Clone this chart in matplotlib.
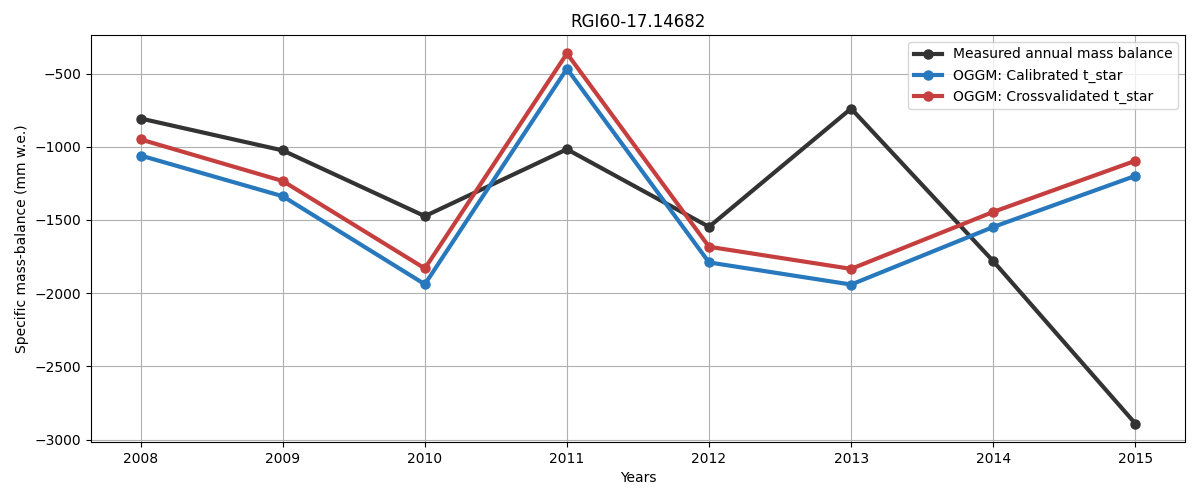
import matplotlib
matplotlib.use("Agg")
import matplotlib.pyplot as plt

years = [2008, 2009, 2010, 2011, 2012, 2013, 2014, 2015]
measured = [-807, -1025, -1474, -1017, -1547, -739, -1781, -2890]
calibrated = [-1060, -1338, -1939, -467, -1790, -1941, -1548, -1199]
crossval = [-950, -1234, -1831, -363, -1683, -1834, -1445, -1096]

fig, ax = plt.subplots(figsize=(12, 5), dpi=100)
ax.plot(years, measured, "o-", color="#333333", lw=3, ms=6.5, label="Measured annual mass balance")
ax.plot(years, calibrated, "o-", color="#2878bd", lw=3, ms=6.5, label="OGGM: Calibrated t_star")
ax.plot(years, crossval, "o-", color="#c63f3f", lw=3, ms=6.5, label="OGGM: Crossvalidated t_star")

ax.set_title("RGI60-17.14682")
ax.set_xlabel("Years")
ax.set_ylabel("Specific mass-balance (mm w.e.)")
ax.set_xticks(years)
ax.grid(True)
ax.legend(loc="upper right")

fig.subplots_adjust(left=0.0758, right=0.9875, top=0.93, bottom=0.116)
fig.savefig("out.png")
